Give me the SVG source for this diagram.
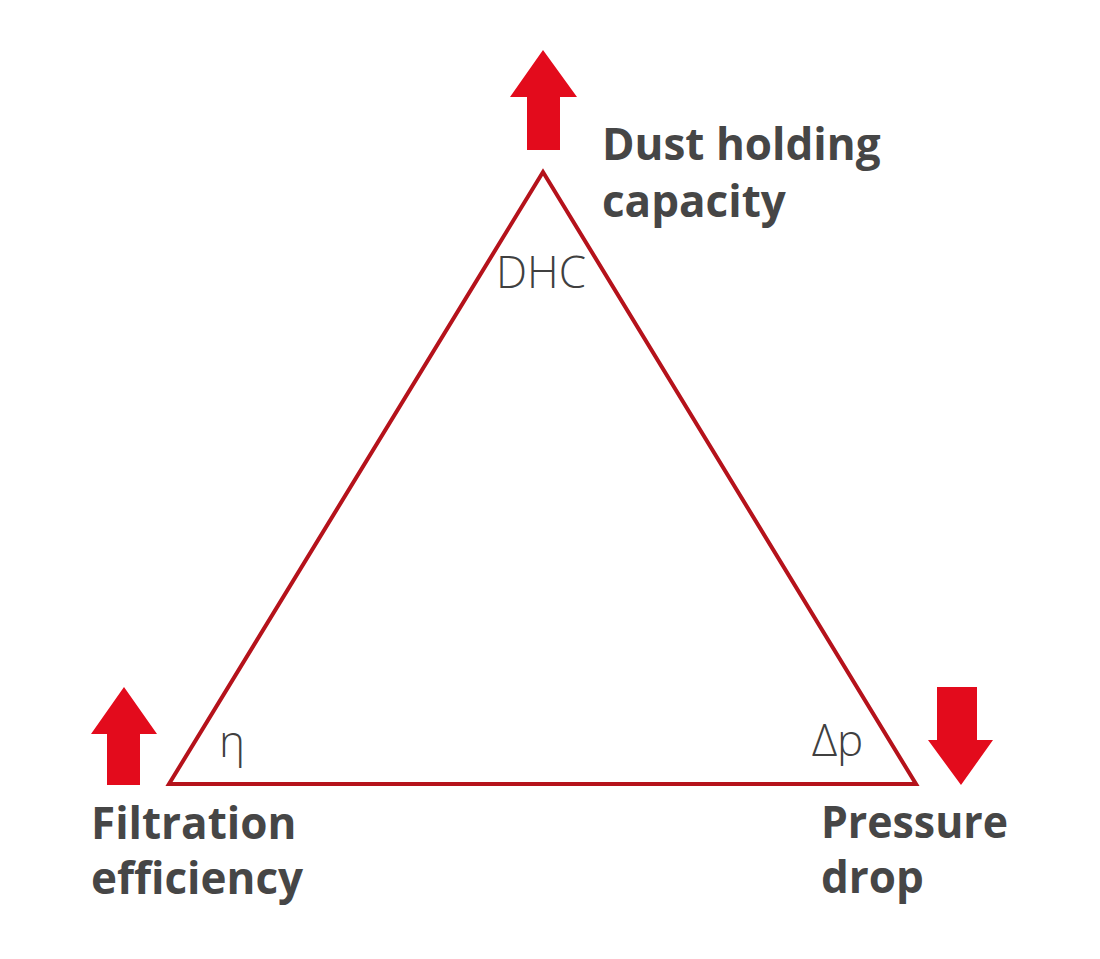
<svg xmlns="http://www.w3.org/2000/svg" width="1100" height="959" viewBox="0 0 1100 959">
<style>
.lbl{font-family:"Open Sans","Noto Sans","Liberation Sans",sans-serif;font-weight:700;font-size:44px;fill:#464646}
.sym{font-family:"Open Sans","Noto Sans","Liberation Sans",sans-serif;font-weight:300;font-size:44px;fill:#404040}
.arrow{fill:#e30b1c}
.tri{fill:none;stroke:#b5121b;stroke-width:4;stroke-linejoin:miter}
</style>
<rect width="1100" height="959" fill="#ffffff"/>
<g id="connectors">
<polygon id="triangle" class="tri" points="543,172 169,784 916,784"/>
</g>
<g id="node-dhc">
<polygon class="arrow" points="543,50 577,97 560,97 560,150 527,150 527,97 510,97"/>
<text class="lbl" x="602" y="160">Dust holding</text>
<text class="lbl" x="602" y="217">capacity</text>
<text class="sym" x="496" y="288">DHC</text>
</g>
<g id="node-eta">
<polygon class="arrow" points="124,687 157,734 140,734 140,785 107,785 107,734 91,734"/>
<text class="lbl" x="91" y="839">Filtration</text>
<text class="lbl" x="91" y="894">efficiency</text>
<text class="sym" x="219" y="757">η</text>
</g>
<g id="node-dp">
<polygon class="arrow" points="937,687 977,687 977,740 993,740 961,785 928,740 937,740"/>
<text class="lbl" x="821" y="838" textLength="187" lengthAdjust="spacingAndGlyphs">Pressure</text>
<text class="lbl" x="821" y="893">drop</text>
<text class="sym" x="812" y="756">Δp</text>
</g>
</svg>
